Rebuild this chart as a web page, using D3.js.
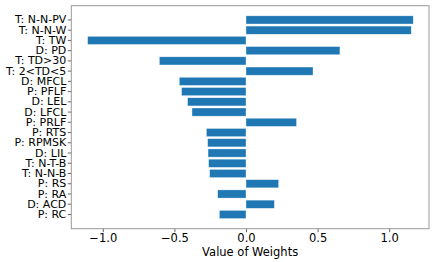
<!DOCTYPE html>
<html>
<head>
<meta charset="utf-8">
<script src="https://cdn.jsdelivr.net/npm/d3@7"></script>
<style>
  body { margin: 0; background: #fff; }
  svg text { font-family: "DejaVu Sans", sans-serif; }
</style>
</head>
<body>
<div id="chart"></div>
<script>
// Feature labels, top to bottom
const features = [
    "T: N-N-PV", "T: N-N-W", "T: TW", "D: PD", "T: TD>30", "T: 2<TD<5",
    "D: MFCL", "P: PFLF", "D: LEL", "D: LFCL", "P: PRLF", "P: RTS",
    "P: RPMSK", "D: LIL", "T: N-T-B", "T: N-N-B", "P: RS", "P: RA",
    "D: ACD", "P: RC"
];
const weights = [
    1.168, 1.154, -1.106, 0.656, -0.605, 0.468,
    -0.466, -0.45, -0.408, -0.377, 0.353, -0.277,
    -0.268, -0.265, -0.261, -0.254, 0.228, -0.198,
    0.198, -0.186
];
const xTicks = [-1.0, -0.5, 0.0, 0.5, 1.0];

const W = 436, H = 262;
const margin = { top: 5.7, right: 7, bottom: 33.3, left: 71.3 },
    width = W - margin.left - margin.right,
    height = H - margin.top - margin.bottom;

const svg = d3.select("#chart")
    .append("svg")
    .attr("width", W)
    .attr("height", H)
    .append("g")
    .attr("transform", `translate(${margin.left},${margin.top})`);

const x = d3.scaleLinear().domain([-1.22, 1.278]).range([0, width]);
const y = d3.scaleBand()
    .domain(features)
    .range([0, height])
    .paddingInner(0.2)
    .paddingOuter(0.99);

// Bars
svg.selectAll(".bar")
    .data(features)
    .join("rect")
    .attr("class", "bar")
    .attr("x", (d, i) => x(Math.min(0, weights[i])))
    .attr("y", d => y(d))
    .attr("width", (d, i) => Math.abs(x(weights[i]) - x(0)))
    .attr("height", y.bandwidth())
    .attr("fill", "#1f77b4")
    .attr("stroke", "#ffffff")
    .attr("stroke-opacity", 0.6)
    .attr("stroke-width", 0.6);

// x-axis
const xAxis = svg.append("g")
    .attr("transform", `translate(0,${height})`)
    .call(d3.axisBottom(x).tickValues(xTicks).tickSize(3.5).tickPadding(1.5)
        .tickFormat(d => d3.format(".1f")(d).replace("-", "\u2212")));
xAxis.select(".domain").remove();
xAxis.selectAll("line").attr("stroke", "#666");
xAxis.selectAll("text")
    .attr("font-size", "11.5px")
    .attr("fill", "#000")
    .attr("font-family", "DejaVu Sans");

// y-axis
const yAxis = svg.append("g")
    .call(d3.axisLeft(y).tickSize(3.5).tickPadding(1.5));
yAxis.select(".domain").remove();
yAxis.selectAll("line").attr("stroke", "#666");
yAxis.selectAll("text")
    .attr("font-size", "11px")
    .attr("fill", "#000")
    .attr("font-family", "DejaVu Sans");

// frame
svg.append("rect")
    .attr("x", 0)
    .attr("y", 0)
    .attr("width", width)
    .attr("height", height)
    .attr("fill", "none")
    .attr("stroke", "#999")
    .attr("stroke-width", 1);

// x label
svg.append("text")
    .attr("x", width / 2)
    .attr("y", height + 27)
    .attr("text-anchor", "middle")
    .attr("font-size", "11.5px")
    .text("Value of Weights");
</script>
</body>
</html>
